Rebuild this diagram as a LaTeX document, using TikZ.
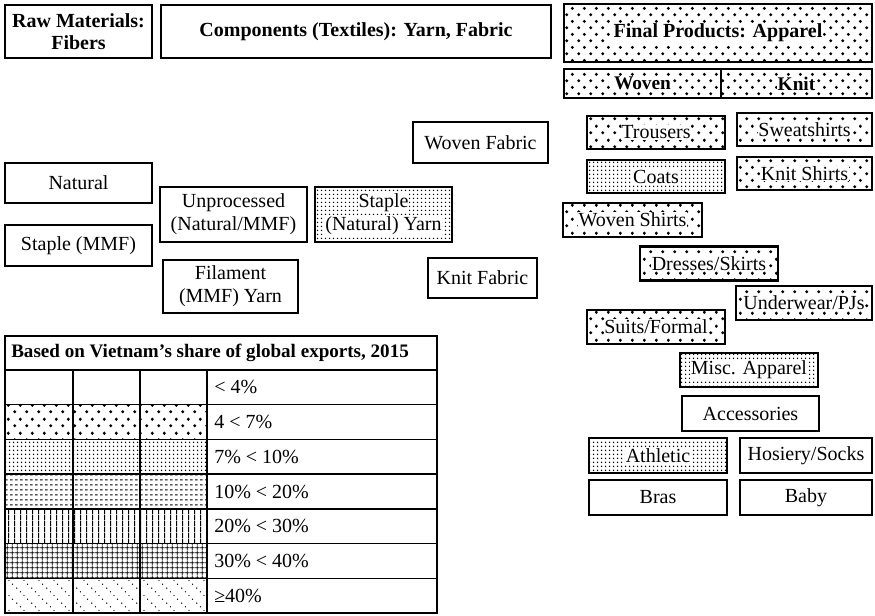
\documentclass[tikz,border=0pt]{standalone}
\usepackage{fontspec}
\setmainfont{Liberation Serif}
\usetikzlibrary{patterns}

% fill patterns of the share classes
\pgfdeclarepatternformonly{bigdots}{\pgfpointorigin}{\pgfpoint{9pt}{10pt}}{\pgfpoint{9pt}{10pt}}{%
  \pgfpathcircle{\pgfpoint{2.25pt}{2.5pt}}{1.3pt}%
  \pgfpathcircle{\pgfpoint{6.75pt}{7.5pt}}{1.3pt}%
  \pgfusepath{fill}}
\pgfdeclarepatternformonly{smalldots}{\pgfpointorigin}{\pgfpoint{3pt}{3pt}}{\pgfpoint{3pt}{3pt}}{%
  \pgfpathcircle{\pgfpoint{1.5pt}{1.5pt}}{0.7pt}%
  \pgfusepath{fill}}
\pgfdeclarepatternformonly{hdash}{\pgfpointorigin}{\pgfpoint{3.75pt}{3.4pt}}{\pgfpoint{3.75pt}{3.4pt}}{%
  \pgfsetlinewidth{0.75pt}%
  \pgfpathmoveto{\pgfpoint{0pt}{1.7pt}}\pgfpathlineto{\pgfpoint{2.4pt}{1.7pt}}%
  \pgfusepath{stroke}}
\pgfdeclarepatternformonly{vlines}{\pgfpointorigin}{\pgfpoint{4.5pt}{4.5pt}}{\pgfpoint{4.5pt}{4.5pt}}{%
  \pgfsetlinewidth{0.9pt}%
  \pgfpathmoveto{\pgfpoint{2.25pt}{0pt}}\pgfpathlineto{\pgfpoint{2.25pt}{4.5pt}}%
  \pgfusepath{stroke}}
\pgfdeclarepatternformonly{gridlines}{\pgfpointorigin}{\pgfpoint{3.9pt}{3.9pt}}{\pgfpoint{3.9pt}{3.9pt}}{%
  \pgfsetlinewidth{0.7pt}%
  \pgfpathmoveto{\pgfpoint{1.95pt}{0pt}}\pgfpathlineto{\pgfpoint{1.95pt}{3.9pt}}%
  \pgfpathmoveto{\pgfpoint{0pt}{1.95pt}}\pgfpathlineto{\pgfpoint{3.9pt}{1.95pt}}%
  \pgfusepath{stroke}}
\pgfdeclarepatternformonly{diagdots}{\pgfpointorigin}{\pgfpoint{11pt}{11pt}}{\pgfpoint{11pt}{11pt}}{%
  \pgfpathcircle{\pgfpoint{1.375pt}{9.625pt}}{0.55pt}%
  \pgfpathcircle{\pgfpoint{4.125pt}{6.875pt}}{0.55pt}%
  \pgfpathcircle{\pgfpoint{6.875pt}{4.125pt}}{0.55pt}%
  \pgfpathcircle{\pgfpoint{9.625pt}{1.375pt}}{0.55pt}%
  \pgfusepath{fill}}

\newcommand{\halo}[1]{{\setlength{\fboxsep}{0.6pt}\colorbox{white}{#1}}}

\tikzset{
  sz/.style 2 args={minimum width=#1*0.75pt, minimum height=#2*0.75pt},
  txt/.style={font=\fontsize{15}{17.5}\selectfont, align=center, inner sep=0pt},
  thinbox/.style={txt, draw, line width=0.8pt},
  thickbox/.style={txt, draw, line width=2.2pt},
  headbox/.style={thinbox, font=\fontsize{15}{16.5}\selectfont\bfseries},
  plain/.style={},
  bd/.style={pattern=bigdots},
  sd/.style={pattern=smalldots},
  hd/.style={pattern=hdash},
  vl/.style={pattern=vlines},
  gl/.style={pattern=gridlines},
  dd/.style={pattern=diagdots}
}

\begin{document}
\begin{tikzpicture}[x=0.75pt, y=-0.75pt]
  \useasboundingbox (0,0) rectangle (875,616);

  % column heads
  \node[headbox, sz={147}{53}] (raw) at (78.5,31.5) {Raw Materials:\\Fibers};
  \node[headbox, sz={390}{53}] (comp) at (356,31.5) {Components (Textiles): Yarn, Fabric};
  \node[thickbox, bd, sz={308}{58}, line width=2pt, font=\fontsize{15}{16.5}\selectfont\bfseries] (final) at (718,33) {\halo{Final Products: Apparel}};
  \node[thickbox, bd, sz={157}{29}, line width=1.8pt, font=\fontsize{14.5}{16}\selectfont\bfseries] (woven) at (642.5,83.5) {\halo{Woven}};
  \node[thickbox, bd, sz={151}{29}, line width=1.8pt, font=\fontsize{14.5}{16}\selectfont\bfseries] (knit) at (796.5,83.5) {\halo{Knit}};

  % fibers, yarn, fabric
  \node[thinbox, sz={147}{40}] (natural) at (78.5,183) {Natural};
  \node[thinbox, sz={147}{41}] (staplemmf) at (78.5,245.5) {Staple (MMF)};
  \node[thinbox, sz={147}{55}] (unproc) at (233.5,214.5) {Unprocessed\\(Natural/MMF)};
  \node[thinbox, sd, sz={137}{55}, line width=1.5pt] (stapleyarn) at (383.5,214.5) {\halo{Staple}\\\halo{(Natural) Yarn}};
  \node[thinbox, sz={135}{53}] (filament) at (230.5,286.5) {Filament\\(MMF) Yarn};
  \node[thinbox, sz={135}{41}] (wovenfab) at (480.5,142.5) {Woven Fabric};
  \node[thinbox, sz={109}{40}] (knitfab) at (482.5,278) {Knit Fabric};

  % apparel
  \node[thickbox, bd, sz={138}{33}] (trousers) at (656,132.5) {\halo{Trousers}};
  \node[thickbox, bd, sz={135}{33}] (sweat) at (804.5,129.5) {\halo{Sweatshirts}};
  \node[thickbox, sd, sz={138}{33}] (coats) at (656,176.5) {\halo{Coats}};
  \node[thickbox, bd, sz={135}{33}] (knitshirts) at (804.5,173.5) {\halo{Knit Shirts}};
  \node[thickbox, bd, sz={139}{34}] (wovenshirts) at (632.5,220) {\halo{Woven Shirts}};
  \node[thickbox, bd, sz={138}{34}] (dresses) at (709,263.5) {\halo{Dresses/Skirts}};
  \node[thickbox, bd, sz={136}{34}] (underwear) at (804,303) {\halo{Underwear/PJs}};
  \node[thickbox, bd, sz={138}{34}] (suits) at (656,327) {\halo{Suits/Formal}};
  \node[thickbox, sd, sz={138}{34}] (misc) at (749,370) {\halo{Misc. Apparel}};
  \node[thickbox, sz={137}{35}] (access) at (750.5,413.5) {Accessories};
  \node[thickbox, sd, sz={138}{35}] (athletic) at (658,455.5) {\halo{Athletic}};
  \node[thickbox, sz={132}{35}] (hosiery) at (806,455.5) {Hosiery/Socks};
  \node[thickbox, sz={138}{35}] (bras) at (658,497.5) {Bras};
  \node[thickbox, sz={132}{35}] (baby) at (806,497.5) {Baby};

  % legend
  \node[txt, anchor=west, font=\fontsize{14.3}{16}\selectfont\bfseries] (legendhead) at (11,353) {Based on Vietnam’s share of global exports, 2015};
  \foreach \sty/\lab [count=\i from 0] in {plain/{< 4\%}, bd/{4 < 7\%}, sd/{7\% < 10\%}, hd/{10\% < 20\%}, vl/{20\% < 30\%}, gl/{30\% < 40\%}, dd/{≥40\%}}{
    \path[\sty] (5,370+\i*34.71) rectangle (207,404.71+\i*34.71);
    \node[txt, anchor=west] (lab\i) at (214,387.36+\i*34.71) {\lab};
  }
  \draw[line width=1pt] (5,336) rectangle (437,613);
  \foreach \i in {0,...,6}
    \draw[line width=1pt] (5,370+\i*34.71) -- (437,370+\i*34.71);
  \foreach \x in {73,140,207}
    \draw[line width=1pt] (\x,370) -- (\x,613);
\end{tikzpicture}
\end{document}
